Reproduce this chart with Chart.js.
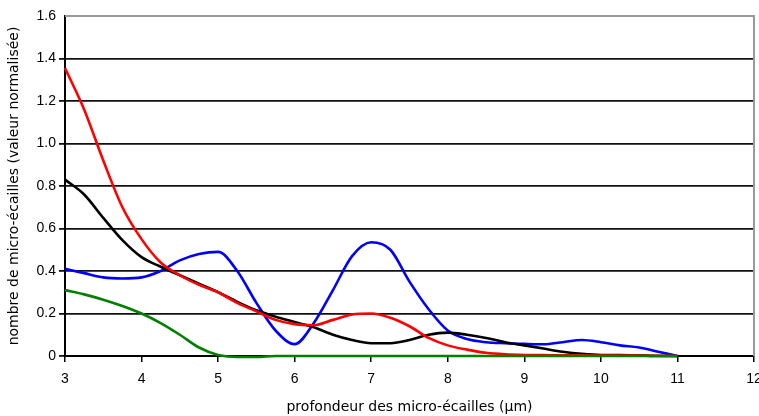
<!DOCTYPE html>
<html>
<head>
<meta charset="utf-8">
<script src="https://cdn.jsdelivr.net/npm/chart.js@4"></script>
<style>
  html, body { margin: 0; padding: 0; background: #fff; }
  #wrap { width: 759px; height: 416px; position: relative; }
</style>
</head>
<body>
<div id="wrap"><canvas id="chart"></canvas></div>
<script>
// ─── Data ────────────────────────────────────────────────────────────────────
const depths = [3, 3.25, 3.5, 3.75, 4, 4.25, 4.5, 4.75, 5, 5.25, 5.5, 5.75, 6, 6.25, 6.5, 6.75,
  7, 7.25, 7.5, 7.75, 8, 8.25, 8.5, 8.75, 9, 9.25, 9.5, 9.75, 10, 10.25, 10.5, 10.75, 11];

const redValues = [1.355, 1.16, 0.92, 0.70, 0.55, 0.44, 0.38, 0.335, 0.30, 0.25, 0.21, 0.17, 0.15, 0.145, 0.17, 0.195,
  0.20, 0.18, 0.14, 0.085, 0.05, 0.03, 0.015, 0.008, 0.005, 0.004, 0.003, 0.003, 0.002, 0.002, 0.002, 0.001, 0];
const blackValues = [0.83, 0.76, 0.65, 0.545, 0.465, 0.42, 0.38, 0.34, 0.30, 0.255, 0.215, 0.185, 0.16, 0.135, 0.10, 0.075,
  0.06, 0.06, 0.075, 0.10, 0.11, 0.10, 0.085, 0.065, 0.05, 0.035, 0.02, 0.01, 0.005, 0.005, 0.003, 0, 0];
const blueValues = [0.41, 0.39, 0.37, 0.365, 0.37, 0.40, 0.45, 0.48, 0.49, 0.40, 0.25, 0.12, 0.056, 0.155, 0.31, 0.47,
  0.535, 0.50, 0.35, 0.22, 0.12, 0.08, 0.065, 0.06, 0.057, 0.055, 0.065, 0.075, 0.065, 0.05, 0.04, 0.02, 0];
const greenValues = [0.31, 0.29, 0.265, 0.235, 0.20, 0.155, 0.10, 0.04, 0.005, -0.005, -0.005, 0, 0, 0, 0, 0,
  0, 0, 0, 0, 0, 0, 0, 0, 0, 0, 0, 0, 0, 0, 0, 0, 0];

const yTicks = [0, 0.2, 0.4, 0.6, 0.8, 1, 1.2, 1.4, 1.6];
const xTicks = [3, 4, 5, 6, 7, 8, 9, 10, 11, 12];

const FONT = 'Liberation Sans, Arial, sans-serif';
const TITLE_FONT = 'DejaVu Sans, sans-serif';

function series(values, color) {
  return {
    data: depths.map((d, i) => ({ x: d, y: values[i] })),
    borderColor: color,
    borderWidth: 2.6,
    pointRadius: 0,
    fill: false,
    tension: 0.4,
    cubicInterpolationMode: 'monotone',
    clip: 4,
  };
}

// gray frame on top and right of the plot area
const framePlugin = {
  id: 'frame',
  beforeDatasetsDraw(chart) {
    const { ctx, chartArea: a } = chart;
    ctx.save();
    ctx.strokeStyle = '#9a9a9a';
    ctx.lineWidth = 2;
    ctx.beginPath();
    ctx.moveTo(a.left, a.top);
    ctx.lineTo(a.right, a.top);
    ctx.lineTo(a.right, a.bottom);
    ctx.stroke();
    ctx.restore();
  },
};

new Chart(document.getElementById('chart').getContext('2d'), {
  type: 'line',
  data: {
    datasets: [
      series(greenValues, '#008000'),
      series(redValues, '#ff0000'),
      series(blackValues, '#000000'),
      series(blueValues, '#0000ff'),
    ],
  },
  options: {
    responsive: true, maintainAspectRatio: false, animation: false,
    layout: { padding: { top: 16, right: 5, left: 4, bottom: 0 } },
    plugins: { legend: { display: false }, tooltip: { enabled: false } },
    scales: {
      x: {
        type: 'linear', min: 3, max: 12,
        afterBuildTicks: s => { s.ticks = xTicks.map(v => ({ value: v })); },
        afterFit: s => { s.height = 60; s.paddingRight = 0; s.paddingLeft = 0; },
        grid: { drawOnChartArea: false, color: '#000', lineWidth: 1.5, tickLength: 6 },
        border: { color: '#000', width: 2 },
        ticks: { color: '#000', font: { family: FONT, size: 14 }, padding: 9 },
        title: {
          display: true, text: 'profondeur des micro-écailles (µm)', color: '#000',
          font: { family: TITLE_FONT, size: 14 }, padding: { top: 2, bottom: 0 },
        },
      },
      y: {
        min: 0, max: 1.6,
        afterBuildTicks: s => { s.ticks = yTicks.map(v => ({ value: v })); },
        afterFit: s => { s.width = 61; },
        grid: {
          color: c => (c.tick && c.tick.value === 1.6 ? 'rgba(0,0,0,0)' : '#111'),
          lineWidth: 1.8, tickLength: 6,
        },
        border: { color: '#000', width: 2 },
        ticks: { color: '#000', font: { family: FONT, size: 14 }, padding: 3 },
        title: {
          display: true, text: 'nombre de micro-écailles (valeur normalisée)', color: '#000',
          font: { family: TITLE_FONT, size: 14 }, padding: { top: 2, bottom: 0 },
        },
      },
    },
  },
  plugins: [framePlugin],
});
</script>
</body>
</html>
